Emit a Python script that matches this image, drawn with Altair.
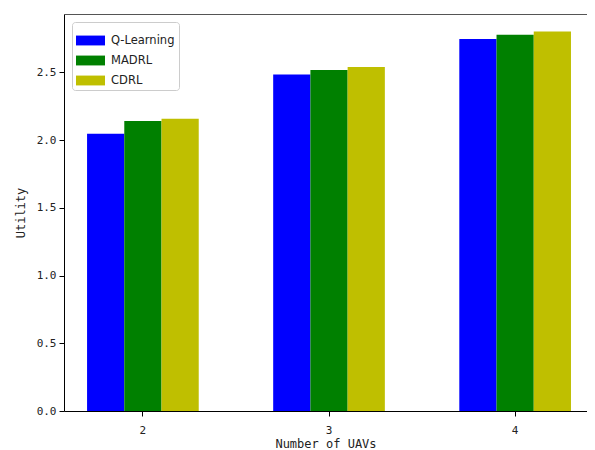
import altair as alt
import pandas as pd

uav_counts = ["2", "3", "4"]
methods = ["Q-Learning", "MADRL", "CDRL"]
q_learning = [2.046, 2.484, 2.745]
madrl = [2.140, 2.516, 2.777]
cdrl = [2.157, 2.538, 2.801]
colors = ["#0000ff", "#008000", "#bfbf00"]
y_ticks = [0.0, 0.5, 1.0, 1.5, 2.0, 2.5]

rows = []
for i, n in enumerate(uav_counts):
    for m, vals in zip(methods, [q_learning, madrl, cdrl]):
        rows.append({"uavs": n, "method": m, "utility": vals[i]})
df = pd.DataFrame(rows)

mono = "DejaVu Sans Mono"
x_scale = alt.Scale(paddingInner=0.4, paddingOuter=0.105, align=0.59)

x_enc = alt.X(
    "uavs:N",
    sort=uav_counts,
    scale=x_scale,
    axis=alt.Axis(
        orient="bottom",
        title="Number of UAVs", labelAngle=0, labelFont=mono, labelFontSize=11,
        labelColor="#222", titleFont=mono, titleFontSize=12, titleFontWeight="normal",
        titleColor="#222", titlePadding=3, labelPadding=8, tickSize=5,
        domainColor="#000", tickColor="#000", grid=False,
    ),
)

bars = alt.Chart(df).mark_bar(opacity=1).encode(
    x=x_enc,
    xOffset=alt.XOffset("method:N", sort=methods, scale=alt.Scale(paddingInner=0, paddingOuter=0)),
    y=alt.Y(
        "utility:Q",
        scale=alt.Scale(domain=[0, 2.93], nice=False, zero=True),
        axis=alt.Axis(
            title="Utility", values=y_ticks, format=".1f", labelFont=mono,
            labelFontSize=11, labelColor="#222", titleFont=mono, titleFontSize=12,
            titleFontWeight="normal", titleColor="#222", titlePadding=9,
            labelPadding=3, tickSize=5, domainColor="#000", tickColor="#000", grid=False,
        ),
    ),
    color=alt.Color(
        "method:N",
        sort=methods,
        scale=alt.Scale(domain=methods, range=colors),
        legend=alt.Legend(
            title=None, orient="none", legendX=8, legendY=8, padding=4,
            strokeColor="#cccccc", cornerRadius=3, fillColor="white",
            symbolType="M-1,-0.34H1V0.34H-1Z", symbolSize=841, symbolStrokeWidth=0,
            symbolOpacity=1, labelFont="DejaVu Sans", labelFontSize=11.5,
            labelColor="#222", labelOffset=6, rowPadding=0,
        ),
    ),
)

top_spine = alt.Chart(df).mark_bar(opacity=0).encode(
    x=alt.X("uavs:N", sort=uav_counts, scale=x_scale,
            axis=alt.Axis(orient="top", title=None, labels=False, ticks=False,
                          domainColor="#555", grid=False)),
    y=alt.Y("utility:Q"),
)

chart = alt.layer(bars, top_spine).resolve_axis(x="independent").properties(
    width=523, height=397,
    autosize=alt.AutoSizeParams(type="none"),
    padding={"left": 56, "top": 6, "right": 0, "bottom": 40},
).configure_view(stroke=None)

chart.save("out.html", embed_options={"renderer": "svg", "actions": False})
